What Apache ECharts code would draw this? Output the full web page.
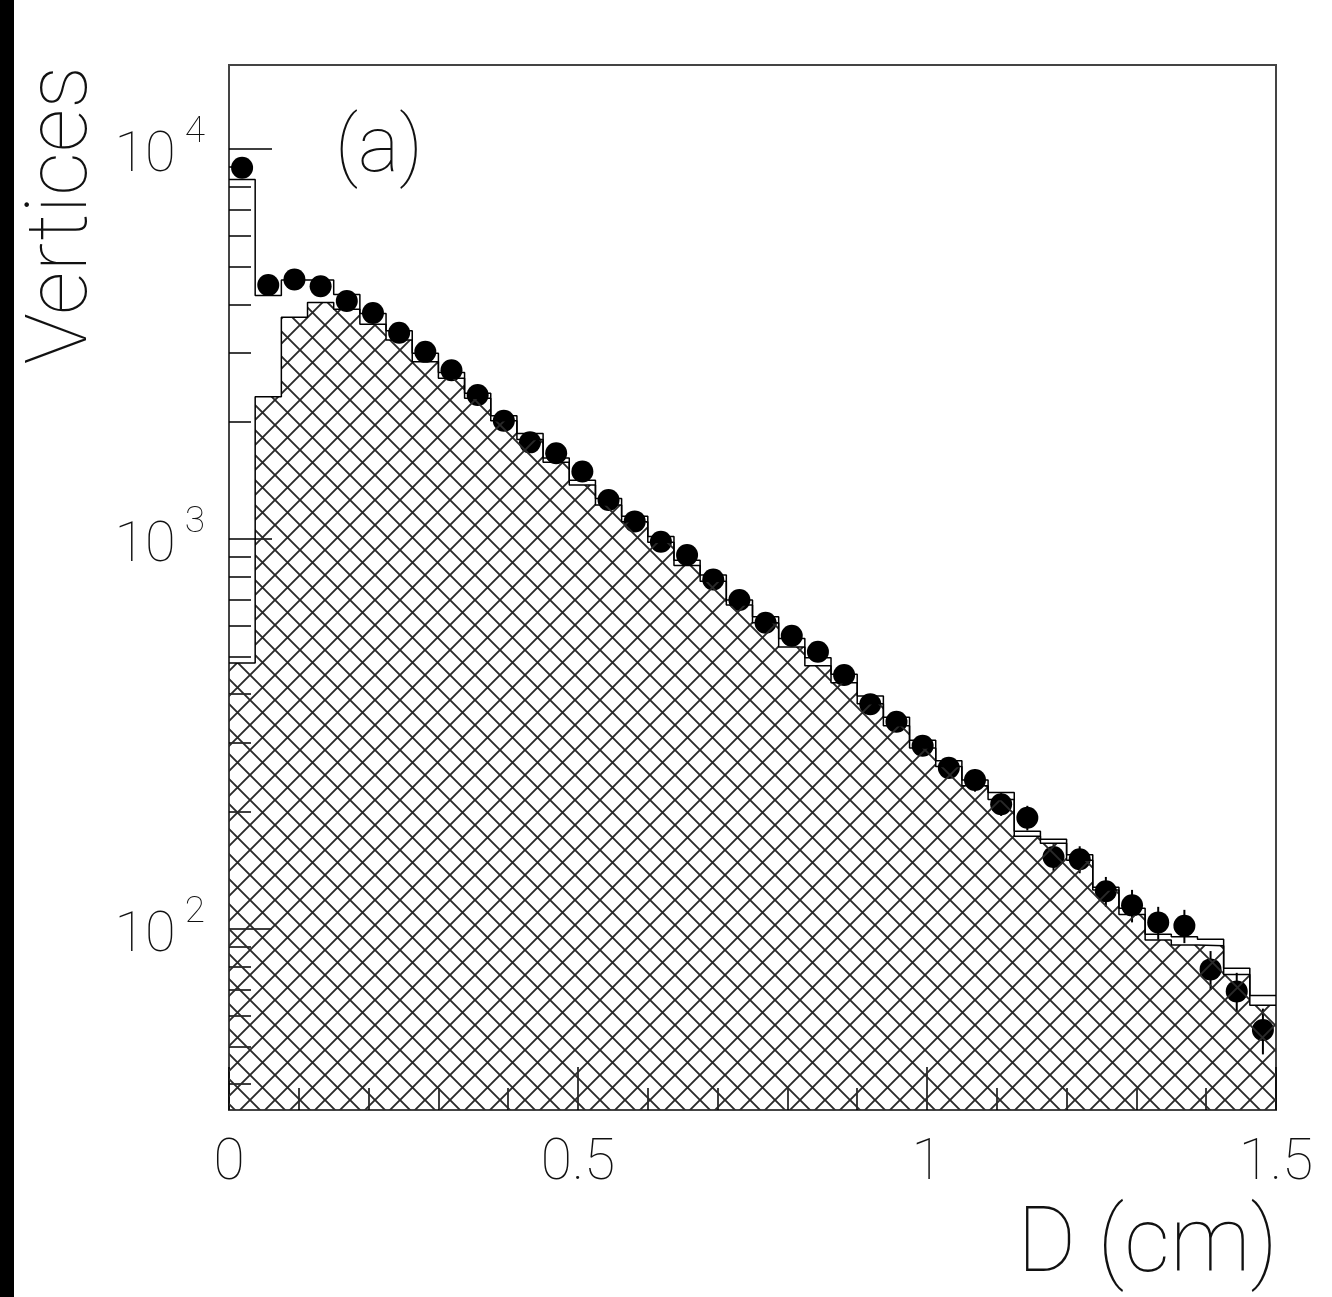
<!DOCTYPE html>
<html>
<head>
<meta charset="utf-8">
<script src="https://cdn.jsdelivr.net/npm/echarts@6/dist/echarts.min.js"></script>
<style>
  html, body { margin: 0; padding: 0; background: #fff; }
  #chart { width: 1332px; height: 1297px; }
</style>
</head>
<body>
<div id="chart"></div>
<script>
// histogram bin edges, D (cm)
const binEdges = [0, 0.0375, 0.075, 0.1125, 0.15, 0.1875, 0.225, 0.2625, 0.3, 0.3375,
  0.375, 0.4125, 0.45, 0.4875, 0.525, 0.5625, 0.6, 0.6375, 0.675, 0.7125,
  0.75, 0.7875, 0.825, 0.8625, 0.9, 0.9375, 0.975, 1.0125, 1.05, 1.0875,
  1.125, 1.1625, 1.2, 1.2375, 1.275, 1.3125, 1.35, 1.3875, 1.425, 1.4625, 1.5]

// data points (filled circles) and their errors
const dataCounts = [8960, 4480, 4630, 4450, 4080, 3800, 3380, 3020, 2710, 2340,
  2010, 1770, 1660, 1490, 1260, 1110, 984, 910, 788, 698,
  610, 565, 514, 448, 377, 340, 295, 259, 241, 209,
  193, 153, 151, 125, 115, 104, 102, 78.8, 69.2, 55.1]
const dataErrors = [95, 67, 68, 67, 64, 62, 58, 55, 52, 48,
  45, 42, 41, 39, 35, 33, 31, 30, 28, 26,
  25, 24, 23, 21, 19, 18, 17, 16, 16, 14,
  14, 12, 12, 11, 11, 10, 10, 9, 8, 7.4]

// open histogram (total)
const mcTotal = [8360, 4215, 4615, 4615, 4240, 3790, 3420, 2995, 2675, 2365,
  2070, 1865, 1615, 1415, 1270, 1145, 1015, 883, 809, 698,
  632, 556, 496, 450, 396, 349, 305, 270, 241, 224,
  178, 170, 155, 128, 113, 97, 95.6, 94.1, 79.3, 67.5]

// hatched histogram
const mcHatched = [481, 2317, 3703, 4045, 3882, 3553, 3238, 2849, 2583, 2296,
  2011, 1801, 1575, 1376, 1223, 1108, 981, 856, 780, 677,
  610, 529, 473, 428, 378, 332, 291, 261, 233, 215,
  173, 166, 150, 126, 109, 93.7, 91.0, 90.6, 76.5, 63.8]

// tick values
const xMajorTicks = [0, 0.5, 1, 1.5]
const yMajorTicks = [100, 1000, 10000]
const yMinorTicks = [40, 50, 60, 70, 80, 90, 200, 300, 400, 500, 600, 700, 800, 900,
  2000, 3000, 4000, 5000, 6000, 7000, 8000, 9000]

const Y_MIN = 34.35
const Y_MAX = 16430

const lg = v => Math.log10(v)
const FONT = 'Roboto'
const WEIGHT = 100
const TXT = '#111'

function makeHatch() {
  const s = 25
  const c = document.createElement('canvas')
  c.width = s
  c.height = s
  const ctx = c.getContext('2d')
  ctx.strokeStyle = '#2a2a2a'
  ctx.lineWidth = 1.9
  for (let k = -1; k <= 1; k++) {
    ctx.beginPath()
    ctx.moveTo(k * s, 0)
    ctx.lineTo(k * s + s, s)
    ctx.moveTo(k * s + s, 0)
    ctx.lineTo(k * s, s)
    ctx.stroke()
  }
  return c
}

// step line points: value of bin i at its left edge, last value repeated at right edge
function stepData(arr) {
  return binEdges.map((x, i) => [x, lg(arr[Math.min(i, arr.length - 1)])])
}

const centers = dataCounts.map((v, i) => (binEdges[i] + binEdges[i + 1]) / 2)

let chart = echarts.init(document.getElementById('chart'))

let option = {
  animation: false,
  backgroundColor: '#fff',
  grid: {
    left: 229,
    top: 65,
    width: 1047,
    height: 1045,
    show: true,
    borderColor: '#444',
    borderWidth: 2,
    backgroundColor: 'transparent',
    outerBoundsMode: 'none'
  },
  xAxis: {
    type: 'value',
    min: 0,
    max: 1.5,
    interval: 0.5,
    axisLine: { lineStyle: { color: '#444', width: 2 } },
    axisTick: { inside: true, length: 43, lineStyle: { color: '#000', width: 1.5 } },
    minorTick: { show: true, splitNumber: 5, length: 22, lineStyle: { color: '#000', width: 1.5 } },
    splitLine: { show: false },
    axisLabel: {
      margin: 26,
      fontSize: 57,
      fontFamily: FONT,
      fontWeight: WEIGHT,
      color: TXT,
      formatter: v => String(v)
    }
  },
  yAxis: [
    {
      type: 'value',
      min: lg(Y_MIN),
      max: lg(Y_MAX),
      position: 'left',
      axisLine: { lineStyle: { color: '#444', width: 2 } },
      axisTick: {
        inside: true,
        length: 43,
        customValues: yMajorTicks.map(lg),
        lineStyle: { color: '#000', width: 1.5 }
      },
      splitLine: { show: false },
      axisLabel: {
        customValues: yMajorTicks.map(lg),
        margin: 24,
        padding: [16, 0, 0, 0],
        formatter: v => '{b|10}{s|' + Math.round(v) + '}',
        rich: {
          b: { fontSize: 56, fontFamily: FONT, fontWeight: WEIGHT, color: TXT, lineHeight: 86 },
          s: { fontSize: 37, fontFamily: FONT, fontWeight: WEIGHT, color: TXT, verticalAlign: 'top', padding: [0, 0, 0, 9] }
        }
      }
    },
    {
      type: 'value',
      min: lg(Y_MIN),
      max: lg(Y_MAX),
      position: 'left',
      axisLine: { show: false },
      axisTick: {
        inside: true,
        length: 22,
        customValues: yMinorTicks.map(lg),
        lineStyle: { color: '#000', width: 1.5 }
      },
      axisLabel: { show: false },
      splitLine: { show: false }
    }
  ],
  graphic: [
    { type: 'rect', shape: { x: 0, y: 0, width: 14, height: 1297 }, style: { fill: '#000' }, z: 100 },
    {
      type: 'text', x: 21, y: 66, rotation: Math.PI / 2, z: 100,
      style: { text: 'Vertices', fontSize: 86, fontFamily: FONT, fontWeight: WEIGHT, fill: TXT, align: 'right', verticalAlign: 'top' }
    },
    {
      type: 'text', x: 335, y: 112, z: 100,
      style: { text: '(a)', fontSize: 78, fontFamily: FONT, fontWeight: WEIGHT, fill: TXT, align: 'left', verticalAlign: 'top' }
    },
    {
      type: 'text', x: 1278, y: 1203, z: 100,
      style: { text: 'D (cm)', fontSize: 90, fontFamily: FONT, fontWeight: WEIGHT, fill: TXT, align: 'right', verticalAlign: 'top' }
    }
  ],
  series: [
    {
      name: 'hatched',
      type: 'line',
      step: 'end',
      symbol: 'none',
      data: stepData(mcHatched),
      lineStyle: { color: '#000', width: 1.5 },
      areaStyle: { origin: 'start', opacity: 1, color: { image: makeHatch(), repeat: 'repeat' } }
    },
    {
      name: 'total',
      type: 'line',
      step: 'end',
      symbol: 'none',
      data: stepData(mcTotal),
      lineStyle: { color: '#000', width: 1.5 }
    },
    {
      name: 'errors',
      type: 'custom',
      renderItem: (params, api) => {
        const p1 = api.coord([api.value(0), api.value(1)])
        const p2 = api.coord([api.value(0), api.value(2)])
        return {
          type: 'line',
          shape: { x1: p1[0], y1: p1[1], x2: p2[0], y2: p2[1] },
          style: { stroke: '#000', lineWidth: 2 }
        }
      },
      data: dataCounts.map((v, i) => [centers[i], lg(v - dataErrors[i]), lg(v + dataErrors[i])])
    },
    {
      name: 'data',
      type: 'scatter',
      symbol: 'circle',
      symbolSize: 22,
      itemStyle: { color: '#000', opacity: 1 },
      data: dataCounts.map((v, i) => [centers[i], lg(v)])
    }
  ]
}

chart.setOption(option)
</script>
</body>
</html>
